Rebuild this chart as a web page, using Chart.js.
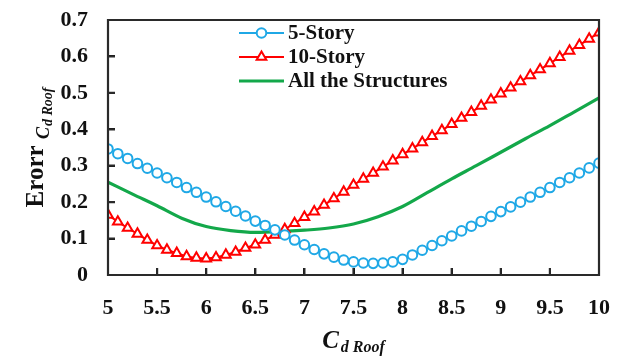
<!DOCTYPE html>
<html>
<head>
<meta charset="utf-8">
<script src="https://cdn.jsdelivr.net/npm/chart.js@4.4.1/dist/chart.umd.min.js"></script>
<style>
  html, body { margin: 0; padding: 0; background: #fff; }
  #wrap { width: 623px; height: 358px; }
</style>
</head>
<body>
<div id="wrap"><canvas id="chart"></canvas></div>
<script>
// Cd Roof values sampled for the two building models
const cdValues = [
  5.0, 5.1, 5.2, 5.3, 5.4, 5.5, 5.6, 5.7, 5.8, 5.9,
  6.0, 6.1, 6.2, 6.3, 6.4, 6.5, 6.6, 6.7, 6.8, 6.9,
  7.0, 7.1, 7.2, 7.3, 7.4, 7.5, 7.6, 7.7, 7.8, 7.9,
  8.0, 8.1, 8.2, 8.3, 8.4, 8.5, 8.6, 8.7, 8.8, 8.9,
  9.0, 9.1, 9.2, 9.3, 9.4, 9.5, 9.6, 9.7, 9.8, 9.9, 10.0
];
const error5Story = [
  0.346, 0.333, 0.320, 0.306, 0.293, 0.280, 0.267, 0.254, 0.240, 0.227,
  0.214, 0.201, 0.188, 0.175, 0.162, 0.148, 0.136, 0.124, 0.110, 0.096,
  0.083, 0.070, 0.058, 0.049, 0.041, 0.036, 0.033, 0.032, 0.033, 0.036,
  0.043, 0.055, 0.068, 0.081, 0.094, 0.107, 0.121, 0.134, 0.147, 0.161,
  0.174, 0.187, 0.200, 0.214, 0.227, 0.240, 0.254, 0.267, 0.280, 0.294, 0.307
];
const error10Story = [
  0.165, 0.146, 0.129, 0.113, 0.096, 0.081, 0.069, 0.060, 0.051, 0.047,
  0.045, 0.048, 0.055, 0.063, 0.074, 0.083, 0.096, 0.110, 0.125, 0.142,
  0.159, 0.174, 0.192, 0.210, 0.228, 0.247, 0.264, 0.280, 0.297, 0.314,
  0.331, 0.347, 0.364, 0.381, 0.397, 0.414, 0.431, 0.447, 0.464, 0.481,
  0.498, 0.514, 0.531, 0.548, 0.564, 0.581, 0.598, 0.615, 0.631, 0.648, 0.665
];
// combined curve, coarser sampling
const cdAll = [
  5.0, 5.25, 5.5, 5.75, 6.0, 6.25, 6.5, 6.75, 7.0, 7.25, 7.5,
  7.75, 8.0, 8.25, 8.5, 8.75, 9.0, 9.25, 9.5, 9.75, 10.0
];
const errorAll = [
  0.255, 0.222, 0.190, 0.156, 0.133, 0.122, 0.117, 0.119, 0.123, 0.129, 0.140,
  0.160, 0.188, 0.226, 0.264, 0.300, 0.337, 0.374, 0.410, 0.448, 0.486
];
const seriesNames = ['5-Story', '10-Story', 'All the Structures'];
const xTicks = [5, 5.5, 6, 6.5, 7, 7.5, 8, 8.5, 9, 9.5, 10];
const yTicks = [0, 0.1, 0.2, 0.3, 0.4, 0.5, 0.6, 0.7];

const SERIF = "'Liberation Serif', 'Times New Roman', serif";
const INK = '#111111';
const FRAME = 'rgb(0, 0, 0)';
const BLUE = '#1fa8e6';
const RED = '#ff0000';
const GREEN = '#13a84a';

const pair = (xs, ys) => xs.map((x, i) => ({ x, y: ys[i] }));

// axis titles with subscripts, legend, and the frame drawn as a closed path
const decor = {
  id: 'decor',
  afterDraw(chart) {
    const { ctx, chartArea: a } = chart;
    const sx = chart.scales.x, sy = chart.scales.y;
    ctx.save();
    ctx.fillStyle = INK;
    ctx.textBaseline = 'alphabetic';

    // x title: C with subscript "d Roof"
    const bigX = 'italic bold 25px ' + SERIF, subX = 'italic bold 16px ' + SERIF;
    ctx.font = bigX; const wC = ctx.measureText('C').width;
    ctx.font = subX; const wS = ctx.measureText('d Roof').width;
    const tx = (a.left + a.right) / 2 - (wC + 2 + wS) / 2;
    ctx.font = bigX; ctx.fillText('C', tx, 348);
    ctx.font = subX; ctx.fillText('d Roof', tx + wC + 2, 352);

    // y title, rotated: Erorr with subscript "Cd Roof"
    ctx.save();
    ctx.translate(43, (a.top + a.bottom) / 2);
    ctx.rotate(-Math.PI / 2);
    const f1 = 'bold 25px ' + SERIF, f2 = 'italic bold 18px ' + SERIF, f3 = 'italic bold 14px ' + SERIF;
    ctx.font = f1; const w1 = ctx.measureText('Erorr ').width;
    ctx.font = f2; const w2 = ctx.measureText('C').width;
    ctx.font = f3; const w3 = ctx.measureText('d Roof').width;
    let ty = -(w1 + w2 + w3 + 1) / 2;
    ctx.font = f1; ctx.fillText('Erorr ', ty, 0); ty += w1;
    ctx.font = f2; ctx.fillText('C', ty, 6); ty += w2 + 1;
    ctx.font = f3; ctx.fillText('d Roof', ty, 9);
    ctx.restore();

    // legend: line sample with marker, then name
    const lx = a.left + 131, ly = a.top + 13, gap = 24;
    chart.data.datasets.forEach((ds, i) => {
      const cy = ly + i * gap;
      ctx.strokeStyle = ds.borderColor;
      ctx.lineWidth = ds.borderWidth;
      ctx.beginPath();
      ctx.moveTo(lx, cy);
      ctx.lineTo(lx + 45, cy);
      ctx.stroke();
      if (ds.pointRadius > 0) {
        ctx.fillStyle = '#fff';
        ctx.strokeStyle = ds.pointBorderColor;
        ctx.lineWidth = ds.pointBorderWidth;
        Chart.helpers.drawPoint(ctx, {
          pointStyle: ds.pointStyle, radius: ds.pointRadius,
          rotation: 0, borderWidth: ds.pointBorderWidth
        }, lx + 22.5, cy);
      }
      ctx.fillStyle = INK;
      ctx.font = 'bold 21px ' + SERIF;
      ctx.textBaseline = 'middle';
      ctx.fillText(ds.label, lx + 49, cy + 1);
    });

    // frame and inward ticks as one dark-grey path
    ctx.strokeStyle = '#2a2a2a';
    ctx.lineWidth = 2.2;
    ctx.lineJoin = 'miter';
    ctx.beginPath();
    ctx.rect(a.left, a.top, a.right - a.left, a.bottom - a.top);
    xTicks.forEach(v => {
      const px = sx.getPixelForValue(v);
      ctx.moveTo(px, a.bottom);
      ctx.lineTo(px, a.bottom - 7);
    });
    yTicks.forEach(v => {
      const py = sy.getPixelForValue(v);
      ctx.moveTo(a.left, py);
      ctx.lineTo(a.left + 7, py);
    });
    ctx.stroke();
    ctx.restore();
  }
};

const tickFont = { family: SERIF, size: 22, weight: 'bold' };
const axisBorder = { display: true, color: FRAME, width: 2 };
// only the short tick marks, turned inward by the negative length
const inwardTicks = { display: true, drawOnChartArea: false, drawTicks: true, tickLength: -7, color: FRAME, lineWidth: 2 };

new Chart(document.getElementById('chart'), {
  type: 'line',
  data: {
    datasets: [
      {
        label: seriesNames[0],
        data: pair(cdValues, error5Story),
        borderColor: BLUE, borderWidth: 2,
        pointStyle: 'circle', pointRadius: 4.8, pointBorderWidth: 2,
        pointBackgroundColor: '#fff', pointBorderColor: BLUE
      },
      {
        label: seriesNames[1],
        data: pair(cdValues, error10Story),
        borderColor: RED, borderWidth: 2,
        pointStyle: 'triangle', pointRadius: 5.6, pointBorderWidth: 2,
        pointBackgroundColor: '#fff', pointBorderColor: RED
      },
      {
        label: seriesNames[2],
        data: pair(cdAll, errorAll),
        borderColor: GREEN, borderWidth: 3.2,
        pointRadius: 0, cubicInterpolationMode: 'monotone'
      }
    ]
  },
  options: {
    responsive: true,
    maintainAspectRatio: false,
    animation: false,
    layout: { padding: { left: 0, top: 20, right: 24, bottom: 0 } },
    plugins: { legend: { display: false }, tooltip: { enabled: false } },
    scales: {
      x: {
        type: 'linear', position: 'bottom', min: 5, max: 10,
        afterBuildTicks: s => { s.ticks = xTicks.map(v => ({ value: v })); },
        afterFit: s => { s.height = 83; s.paddingLeft = 0; s.paddingRight = 0; },
        grid: inwardTicks,
        border: axisBorder,
        ticks: {
          color: INK, padding: 27, maxRotation: 0, autoSkip: false,
          font: tickFont,
          callback: v => String(v)
        }
      },
      y: {
        position: 'left', min: 0, max: 0.7,
        afterBuildTicks: s => { s.ticks = yTicks.map(v => ({ value: v })); },
        afterFit: s => { s.width = 108; s.paddingTop = 0; s.paddingBottom = 0; },
        grid: inwardTicks,
        border: axisBorder,
        ticks: {
          color: INK, padding: 27, autoSkip: false,
          font: tickFont,
          callback: v => v === 0 ? '0' : v.toFixed(1)
        }
      }
    }
  },
  plugins: [decor]
});
</script>
</body>
</html>
